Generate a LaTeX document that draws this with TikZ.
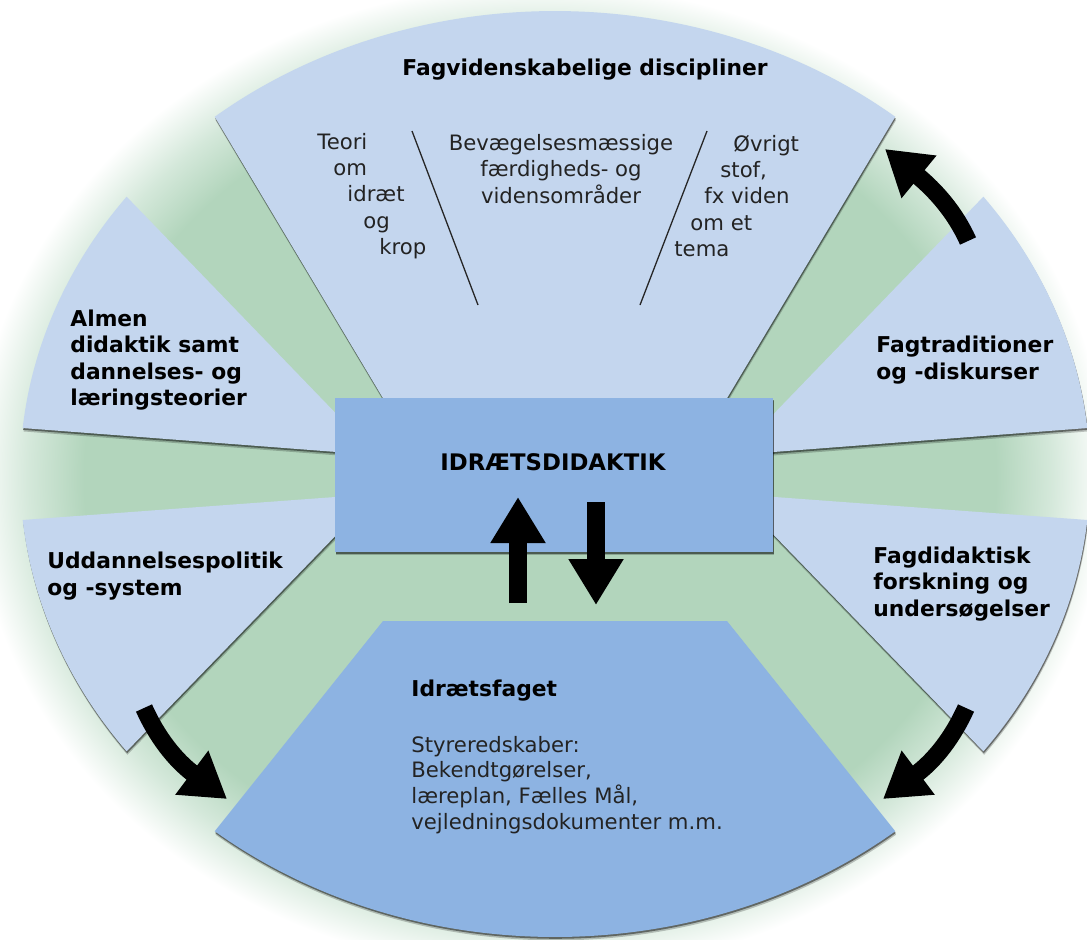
\documentclass[tikz,border=0pt]{standalone}
\usepackage{fontspec}
\setmainfont{DejaVu Sans}
\usetikzlibrary{arrows.meta,shadows}
\definecolor{bggreen}{RGB}{178,213,188}
\definecolor{bgmid}{RGB}{212,232,218}
\definecolor{lblue}{RGB}{196,214,238}
\definecolor{dblue}{RGB}{141,179,226}
\definecolor{txtgray}{RGB}{35,35,35}
\pgfdeclareradialshading{bgfade}{\pgfpoint{0bp}{0bp}}{color(0bp)=(bggreen); color(19bp)=(bggreen); color(21.3bp)=(bgmid); color(23.6bp)=(white); color(50bp)=(white)}
\tikzset{
  shad/.style={general shadow={shadow xshift=0.4pt, shadow yshift=-1.7pt, fill=black, opacity=0.22},
               general shadow={shadow xshift=0.25pt, shadow yshift=-0.9pt, fill=black, opacity=0.45}},
  sector/.style={fill=lblue, shad},
  darksector/.style={fill=dblue, shad},
  centerbox/.style={fill=dblue, shad, minimum width=219pt, minimum height=77pt, inner sep=0pt},
  boldtxt/.style={font=\fontsize{10.9pt}{13.3pt}\selectfont\bfseries, align=left, inner sep=0pt, text=black},
  regtxt/.style={font=\fontsize{10.6pt}{13.2pt}\selectfont, align=left, inner sep=0pt, text=txtgray},
  divline/.style={line width=0.65pt, draw=black!85},
  bigarrow/.style={line width=8.8pt, -{Triangle[length=22pt, width=26pt]}},
  vertarrow/.style={line width=9pt, -{Triangle[length=23pt, width=26pt]}},
  elarc/.style={x radius=267.5pt, y radius=231.5pt}
}
\begin{document}
\begin{tikzpicture}[x=0.5pt,y=-0.5pt]
\useasboundingbox (0,0) rectangle (1087,939);
\fill[white] (0,0) rectangle (1087,939);
\shade[shading=bgfade] (540,478) ellipse [x radius=300pt, y radius=262pt];

% corner points on the outer ellipse
\coordinate (topL) at ({555+535*cos(129.5)},{474-463*sin(129.5)});
\coordinate (almT) at ({555+535*cos(143.2)},{474-463*sin(143.2)});
\coordinate (udT)  at ({555+535*cos(185.7)},{474-463*sin(185.7)});
\coordinate (botL) at ({555+535*cos(230.5)},{474-463*sin(230.5)});
\coordinate (fdT)  at ({555+535*cos(323.2)},{474-463*sin(323.2)});
\coordinate (ftT)  at ({555+535*cos(5.7)},{474-463*sin(5.7)});

% sectors
\path[sector] (408,440) -- (topL) arc[start angle=129.5, end angle=50.5, elarc] -- (702,440) -- cycle;
\path[sector] (376,455) -- (almT) arc[start angle=143.2, end angle=174.3, elarc] -- cycle;
\path[sector] (376,494) -- (udT) arc[start angle=185.7, end angle=216.8, elarc] -- cycle;
\path[sector] (734,494) -- (fdT) arc[start angle=323.2, end angle=354.3, elarc] -- cycle;
\path[sector] (734,455) -- (ftT) arc[start angle=5.7, end angle=36.8, elarc] -- cycle;
\path[darksector] (383,621) -- (botL) arc[start angle=230.5, end angle=309.5, elarc] -- (727,621) -- cycle;

% central box
\node[centerbox] (box) at (554,475) {};

% dividing lines in the top sector
\coordinate (d1a) at (412,131); \coordinate (d1b) at (478,305);
\coordinate (d2a) at (707,131); \coordinate (d2b) at (640,305);
\draw[divline] (d1a) -- (d1b);
\draw[divline] (d2a) -- (d2b);

% texts
\node[boldtxt] (fv) at (585,70) {Fagvidenskabelige discipliner};
\node[regtxt, anchor=west] (teori) at (317,196) {Teori\\\hspace*{8pt}om\\\hspace*{15pt}idræt\\\hspace*{23pt}og\\\hspace*{31pt}krop};
\node[regtxt, align=center] (bev) at (561,169) {Bevægelsesmæssige\\færdigheds- og\\vidensområder};
\node[regtxt, anchor=west] (ovr) at (674,196) {\hspace*{29.5pt}Øvrigt\\\hspace*{23pt}stof,\\\hspace*{15pt}fx viden\\\hspace*{8pt}om et\\tema};

\node[boldtxt, anchor=west] (almen) at (70,360) {Almen\\didaktik samt\\dannelses- og\\læringsteorier};
\node[boldtxt, anchor=west] (udd) at (47,576) {Uddannelsespolitik\\og -system};
\node[boldtxt, anchor=west] (ftrad) at (876,360) {Fagtraditioner\\og -diskurser};
\node[boldtxt, anchor=west] (fdid) at (873,584) {Fagdidaktisk\\forskning og\\undersøgelser};

\node[boldtxt, font=\fontsize{11.4pt}{13.3pt}\selectfont\bfseries] (idr) at (553,462) {IDRÆTSDIDAKTIK};

\node[boldtxt, anchor=west] (ifag) at (411,691) {Idrætsfaget};
\node[regtxt, anchor=west, font=\fontsize{10.6pt}{12.9pt}\selectfont] (styr) at (411,785) {Styreredskaber:\\Bekendtgørelser,\\læreplan, Fælles Mål,\\vejledningsdokumenter m.m.};

% arrows
\coordinate (a1s) at (968,241); \coordinate (a1e) at (885,149);
\coordinate (a2s) at (144,708); \coordinate (a2e) at (227,799);
\coordinate (a3s) at (966,708); \coordinate (a3e) at (883,799);
\draw[bigarrow] (a1s) .. controls (955,212) and (935,190) .. (a1e);
\draw[bigarrow] (a2s) .. controls (157,737) and (175,760) .. (a2e);
\draw[bigarrow] (a3s) .. controls (953,737) and (935,760) .. (a3e);

\coordinate (upS) at (518,603); \coordinate (upE) at (518,497);
\coordinate (dnS) at (596,502); \coordinate (dnE) at (596,605);
\draw[vertarrow] (upS) -- (upE);
\draw[vertarrow] (dnS) -- (dnE);
\end{tikzpicture}
\end{document}
